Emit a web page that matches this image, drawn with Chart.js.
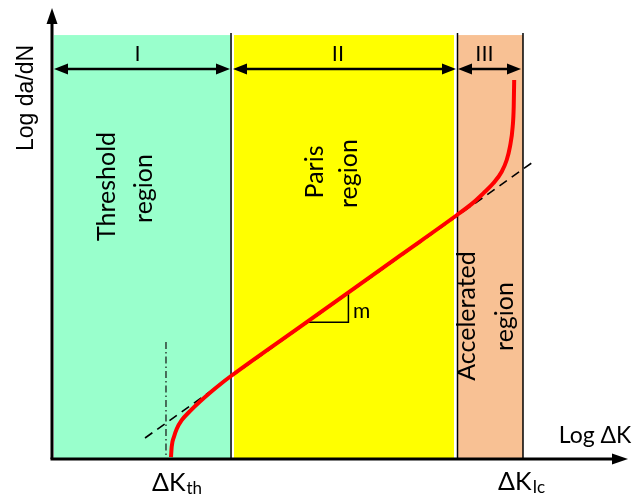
<!DOCTYPE html>
<html><head><meta charset="utf-8">
<script src="https://cdn.jsdelivr.net/npm/chart.js@4/dist/chart.umd.min.js"></script>
<style>html,body{margin:0;padding:0;background:#fff}#wrap{width:633px;height:497px;position:relative}</style>
</head><body><div id="wrap"><canvas id="c"></canvas></div>
<script>
// ---- data (log ΔK on x, log da/dN on y, arbitrary units 0..10) ----
const curveX = [2.066, 2.078, 2.118, 2.165, 2.252, 2.396, 2.569, 2.743, 2.917, 3.108, 4.306, 5.069, 6.042, 7.031, 7.314, 7.488, 7.661, 7.807, 7.894, 7.951, 7.998, 8.016, 8.024];
const curveY = [0.044, 0.273, 0.494, 0.665, 0.861, 1.062, 1.275, 1.470, 1.653, 1.840, 2.930, 3.625, 4.510, 5.410, 5.685, 5.891, 6.113, 6.370, 6.630, 6.925, 7.368, 7.812, 8.404];
const tangentX = [1.615, 8.351];
const tangentY = [0.466, 6.585];
const thresholdX = [1.979, 1.979];
const thresholdY = [2.594, 0];
const slopeX = [4.417, 5.146, 5.146];
const slopeY = [3.031, 3.031, 3.695];
const regionLabels = ['I', 'II', 'III'];
const regionNames = [['Threshold', 'region'], ['Paris', 'region'], ['Accelerated', 'region']];
const regionStart = [0.035, 3.160, 7.049];
const regionEnd = [3.099, 6.979, 8.177];
const regionColors = ['#99FFCC', '#FFFF00', '#F8C194'];
const regionTop = 9.40;
const dividers = [3.108, 7.040, 8.177];
const dividerTop = 9.446;
const arrowStart = [0.035, 3.142, 7.049];
const arrowEnd = [3.090, 7.014, 8.142];
const arrowLevel = 8.647;
const xTitle = 'Log ΔK';
const yTitle = 'Log da/dN';
const tickMain = ['ΔK', 'ΔK'];
const tickSub = ['th', 'Ic'];
const slopeLabel = 'm';

const pts = (xs, ys) => xs.map((x, i) => ({x, y: ys[i]}));

const LATO = '"Lato", "Noto Sans", sans-serif';
const ARIAL = '"Liberation Sans", Arial, sans-serif';

const overlay = {
  id: 'overlay',
  beforeDatasetsDraw(chart) {
    const {ctx} = chart;
    const X = v => chart.scales.x.getPixelForValue(v);
    const Y = v => chart.scales.y.getPixelForValue(v);
    ctx.save();
    regionStart.forEach((s, i) => {
      ctx.fillStyle = regionColors[i];
      ctx.fillRect(X(s), Y(regionTop), X(regionEnd[i]) - X(s), Y(0) - Y(regionTop));
    });
    ctx.strokeStyle = '#000';
    ctx.lineWidth = 1.5;
    dividers.forEach(d => {
      ctx.beginPath(); ctx.moveTo(X(d), Y(dividerTop)); ctx.lineTo(X(d), Y(0)); ctx.stroke();
    });
    ctx.restore();
  },
  afterDatasetsDraw(chart) {
    const {ctx} = chart;
    const X = v => chart.scales.x.getPixelForValue(v);
    const Y = v => chart.scales.y.getPixelForValue(v);
    ctx.save();
    const head = (ax, ay, dx, dy, len, hw) => {
      const nx = -dy, ny = dx;
      ctx.beginPath();
      ctx.moveTo(ax, ay);
      ctx.lineTo(ax - dx * len + nx * hw, ay - dy * len + ny * hw);
      ctx.lineTo(ax - dx * len - nx * hw, ay - dy * len - ny * hw);
      ctx.closePath(); ctx.fill();
    };
    ctx.fillStyle = '#000'; ctx.strokeStyle = '#000';
    ctx.lineWidth = 2.5;
    arrowStart.forEach((s, i) => {
      const x1 = X(s), x2 = X(arrowEnd[i]), y = Y(arrowLevel);
      ctx.beginPath(); ctx.moveTo(x1 + 8, y); ctx.lineTo(x2 - 8, y); ctx.stroke();
      head(x1, y, -1, 0, 14, 5.5);
      head(x2, y, 1, 0, 14, 5.5);
    });
    ctx.lineWidth = 3;
    ctx.beginPath(); ctx.moveTo(X(0), Y(0)); ctx.lineTo(X(0), Y(10) + 10); ctx.stroke();
    ctx.beginPath(); ctx.moveTo(X(0) - 1.5, Y(0)); ctx.lineTo(X(10) - 10, Y(0)); ctx.stroke();
    head(X(0), Y(10), 0, -1, 16, 5.5);
    head(X(10), Y(0), 1, 0, 16, 5.5);

    const text = (str, x, y, font, align, rot) => {
      ctx.save();
      ctx.translate(x, y);
      if (rot) ctx.rotate(-Math.PI / 2);
      ctx.font = font; ctx.textAlign = align; ctx.textBaseline = 'alphabetic';
      ctx.fillStyle = '#000';
      ctx.fillText(str, 0, 0);
      ctx.restore();
    };
    const romanX = [1.484, 4.965, 7.509];
    regionLabels.forEach((l, i) => text(l, X(romanX[i]), Y(8.825), '22px ' + ARIAL, 'center', false));
    const namePos = [[[1.094, 6.042], [1.736, 5.998]], [[4.705, 6.364], [5.295, 6.330]], [[7.344, 3.171], [8.003, 3.160]]];
    regionNames.forEach((lines, i) => lines.forEach((t, j) => {
      const p = namePos[i][j];
      text(t, X(p[0]), Y(p[1]), '25px ' + LATO, 'center', true);
    }));
    text(yTitle, X(-0.330), Y(8.004), '23px ' + ARIAL, 'center', true);
    text(xTitle, X(9.427), Y(0.355), '23px ' + LATO, 'center', false);
    const tickPos = [[1.736, -0.710], [7.743, -0.687]];
    tickMain.forEach((t, i) => {
      const x = X(tickPos[i][0]), y = Y(tickPos[i][1]);
      ctx.font = '25px ' + LATO;
      const w = ctx.measureText(t).width;
      text(t, x, y, '25px ' + LATO, 'left', false);
      text(tickSub[i], x + w + 1, y + 3, '17px ' + LATO, 'left', false);
    });
    text(slopeLabel, X(5.226), Y(3.126), '21px ' + LATO, 'left', false);
    ctx.restore();
  }
};

new Chart(document.getElementById('c'), {
  type: 'scatter',
  data: {
    datasets: [
      {data: pts(curveX, curveY), showLine: true, borderColor: '#FF0000', borderWidth: 4, pointRadius: 0, cubicInterpolationMode: 'monotone', clip: false, order: 1},
      {data: pts(tangentX, tangentY), showLine: true, borderColor: '#000', borderWidth: 1.6, borderDash: [9, 6], pointRadius: 0, clip: false, order: 2},
      {data: pts(thresholdX, thresholdY), showLine: true, borderColor: '#111', borderWidth: 1.2, borderDash: [7, 3, 1.5, 3], pointRadius: 0, clip: false, order: 3},
      {data: pts(slopeX, slopeY), showLine: true, borderColor: '#000', borderWidth: 1.5, pointRadius: 0, clip: false, order: 4}
    ]
  },
  options: {
    responsive: true, maintainAspectRatio: false, animation: false,
    layout: {padding: {left: 52, right: 5, top: 8, bottom: 38}},
    plugins: {legend: {display: false}, tooltip: {enabled: false}},
    scales: {
      x: {type: 'linear', min: 0, max: 10, display: false},
      y: {type: 'linear', min: 0, max: 10, display: false}
    }
  },
  plugins: [overlay]
});
</script>
</body></html>
